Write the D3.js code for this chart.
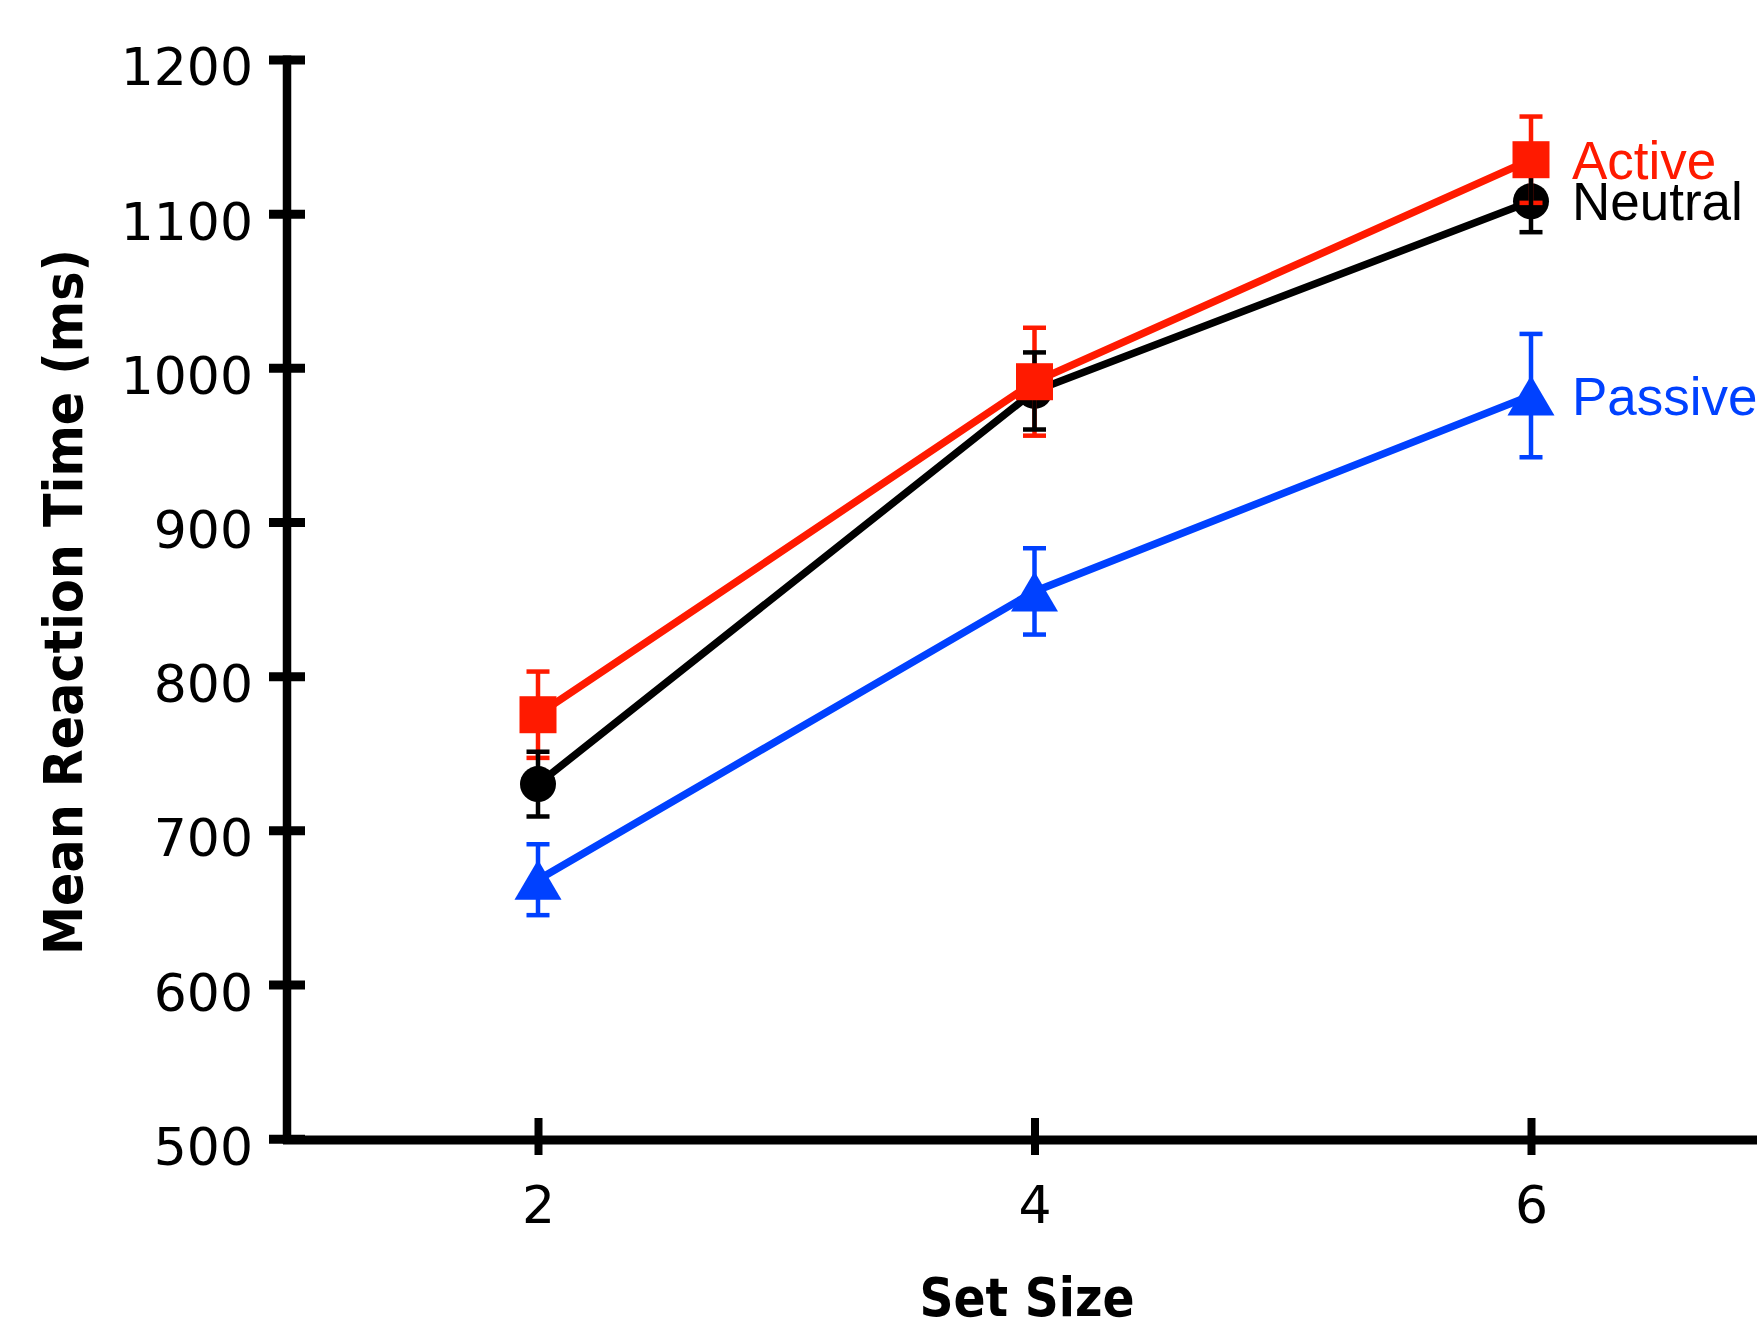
<!DOCTYPE html>
<html>
<head>
<meta charset="utf-8">
<script src="https://cdn.jsdelivr.net/npm/d3@7"></script>
<style>
  body { margin: 0; background: #fff; }
  svg { display: block; }
</style>
</head>
<body>
<svg id="chart"></svg>
<script>
const setSizes = [2, 4, 6];
const activeRT = [775, 991, 1135];
const activeSE = [28, 35, 28];
const neutralRT = [730, 985, 1108];
const neutralSE = [21, 25, 20];
const passiveRT = [668, 855, 982];
const passiveSE = [23, 28, 40];
const yTicks = [500, 600, 700, 800, 900, 1000, 1100, 1200];
const xTicks = [2, 4, 6];

const W = 1757, H = 1324;
const red = "#ff1a00", blue = "#0041ff";

const svg = d3.select("#chart").attr("width", W).attr("height", H);

const x = d3.scaleLinear().domain([2, 6]).range([538, 1531]);
const y = d3.scaleLinear().domain([500, 1200]).range([1138.7, 59.5]);
const axisX = 287, axisY = 1140;

// axes lines
svg.append("line")
    .attr("x1", axisX).attr("x2", axisX)
    .attr("y1", y(1200) - 4).attr("y2", axisY + 4)
    .attr("stroke", "#000").attr("stroke-width", 8.5);
svg.append("line")
    .attr("x1", axisX - 4).attr("x2", W)
    .attr("y1", axisY).attr("y2", axisY)
    .attr("stroke", "#000").attr("stroke-width", 9);

// y axis ticks + labels
const gy = svg.append("g")
    .attr("transform", `translate(${axisX},0)`)
    .call(d3.axisLeft(y).tickValues(yTicks).tickFormat(d3.format("d")).tickSize(18).tickPadding(16));
gy.select(".domain").remove();
gy.selectAll(".tick line").attr("x1", 18).attr("stroke", "#000").attr("stroke-width", 9);
gy.selectAll(".tick text")
    .attr("font-family", "DejaVu Sans, sans-serif")
    .attr("font-size", 52)
    .attr("fill", "#000")
    .attr("dy", "0.49em");

// x axis ticks + labels
const gx = svg.append("g")
    .attr("transform", `translate(0,${axisY})`)
    .call(d3.axisBottom(x).tickValues(xTicks).tickFormat(d3.format("d")).tickSize(15));
gx.select(".domain").remove();
gx.selectAll(".tick line").attr("y1", -22).attr("stroke", "#000").attr("stroke-width", 8);
gx.selectAll(".tick text")
    .attr("font-family", "DejaVu Sans, sans-serif")
    .attr("font-size", 52)
    .attr("fill", "#000")
    .attr("y", 83)
    .attr("dy", 0);

// axis titles
svg.append("text")
    .attr("transform", "translate(82,602) rotate(-90)")
    .attr("text-anchor", "middle")
    .attr("font-family", "DejaVu Sans, sans-serif")
    .attr("font-weight", "bold")
    .attr("font-size", 54)
    .attr("textLength", 706)
    .attr("lengthAdjust", "spacingAndGlyphs")
    .text("Mean Reaction Time (ms)");

svg.append("text")
    .attr("x", 1027).attr("y", 1316)
    .attr("text-anchor", "middle")
    .attr("font-family", "DejaVu Sans, sans-serif")
    .attr("font-weight", "bold")
    .attr("font-size", 54)
    .attr("textLength", 215)
    .attr("lengthAdjust", "spacingAndGlyphs")
    .text("Set Size");

const rows = (rt, se) => setSizes.map((s, i) => ({ s, v: rt[i], e: se[i] }));
const series = {
    active: { data: rows(activeRT, activeSE), color: red, shape: "square" },
    neutral: { data: rows(neutralRT, neutralSE), color: "#000", shape: "circle" },
    passive: { data: rows(passiveRT, passiveSE), color: blue, shape: "triangle" }
};

const line = d3.line().x(d => x(d.s)).y(d => y(d.v));

function drawLine(k) {
    const sr = series[k];
    svg.append("path")
        .datum(sr.data)
        .attr("d", line)
        .attr("fill", "none")
        .attr("stroke", sr.color)
        .attr("stroke-width", 7.5);
}

function drawMarkers(k) {
    const sr = series[k];
    const g = svg.append("g").attr("fill", sr.color);
    sr.data.forEach(d => {
        const cx = x(d.s), cy = y(d.v);
        if (sr.shape === "square") {
            g.append("rect").attr("x", cx - 18.5).attr("y", cy - 18.5)
                .attr("width", 37).attr("height", 37);
        } else if (sr.shape === "circle") {
            g.append("circle").attr("cx", cx).attr("cy", cy).attr("r", 18);
        } else {
            g.append("path")
                .attr("d", `M${cx},${cy - 20}L${cx + 23.5},${cy + 20}L${cx - 23.5},${cy + 20}Z`);
        }
    });
}

function drawErrors(k) {
    const sr = series[k];
    const g = svg.append("g").attr("stroke", sr.color);
    sr.data.forEach(d => {
        const cx = x(d.s), top = y(d.v + d.e), bot = y(d.v - d.e);
        g.append("line").attr("x1", cx).attr("x2", cx).attr("y1", top).attr("y2", bot)
            .attr("stroke-width", 4.5);
        [top, bot].forEach(yy => {
            g.append("line").attr("x1", cx - 11.5).attr("x2", cx + 11.5)
                .attr("y1", yy).attr("y2", yy).attr("stroke-width", 4.5);
        });
    });
}

drawLine("passive");
drawErrors("passive");
drawMarkers("passive");
drawLine("neutral");
drawMarkers("neutral");
drawErrors("active");
drawErrors("neutral");
drawLine("active");
drawMarkers("active");

// series labels
const labels = [
    { t: "Active", y: 179, c: red },
    { t: "Neutral", y: 220, c: "#000" },
    { t: "Passive", y: 415, c: blue }
];
svg.selectAll(".lab")
    .data(labels)
    .enter()
    .append("text")
    .attr("x", 1572)
    .attr("y", d => d.y)
    .attr("fill", d => d.c)
    .attr("font-family", "Liberation Sans, Arial, sans-serif")
    .attr("font-size", 53)
    .text(d => d.t);
</script>
</body>
</html>
